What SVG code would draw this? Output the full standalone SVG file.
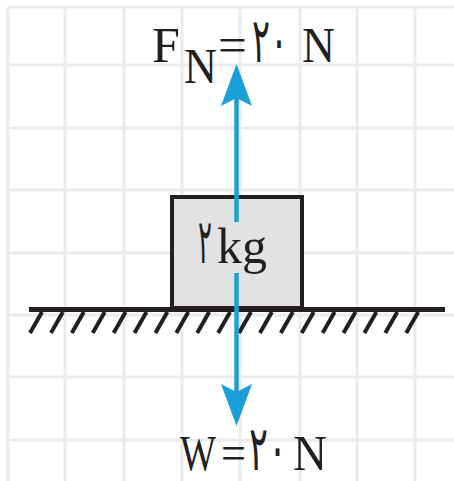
<svg xmlns="http://www.w3.org/2000/svg" width="454" height="481" viewBox="0 0 454 481">
<style>
.grid line{stroke:#ebebeb;stroke-width:3}
.edge{stroke:#f2f2f2;stroke-width:1.5}
.t{font-family:"Liberation Serif","DejaVu Sans",serif;font-size:50px;fill:#231f20}
.d{font-family:"DejaVu Sans",sans-serif;font-size:62px;fill:#231f20}
.blue{stroke:#1a9fd9;stroke-width:4.5;fill:none}
.hatch line{stroke:#231f20;stroke-width:4}
</style>
<defs>
<marker id="ah" markerUnits="userSpaceOnUse" viewBox="-1 -17 46 34" markerWidth="46" markerHeight="34" refX="8" refY="0" orient="auto" overflow="visible">
<path d="M0,-15.5 L42,0 L0,15.5 L8,0 Z" fill="#1a9fd9"/>
</marker>
</defs>
<rect width="454" height="481" fill="#fff"/>
<g class="grid" id="grid">
<line class="edge" x1="8" y1="7" x2="8" y2="481"/>
<line class="edge" x1="8" y1="7" x2="454" y2="7"/>
<line x1="65" y1="7" x2="65" y2="481"/>
<line x1="124" y1="7" x2="124" y2="481"/>
<line x1="182" y1="7" x2="182" y2="481"/>
<line x1="240" y1="7" x2="240" y2="481"/>
<line x1="300" y1="7" x2="300" y2="481"/>
<line x1="357" y1="7" x2="357" y2="481"/>
<line x1="415" y1="7" x2="415" y2="481"/>
<line x1="8" y1="65" x2="454" y2="65"/>
<line x1="8" y1="128" x2="454" y2="128"/>
<line x1="8" y1="190" x2="454" y2="190"/>
<line x1="8" y1="253" x2="454" y2="253"/>
<line x1="8" y1="315" x2="454" y2="315"/>
<line x1="8" y1="377" x2="454" y2="377"/>
<line x1="8" y1="440" x2="454" y2="440"/>
</g>
<g id="ground">
<line x1="29" y1="309.5" x2="445" y2="309.5" stroke="#231f20" stroke-width="5"/>
<g class="hatch">
<line x1="42" y1="312" x2="30" y2="333"/>
<line x1="62.9" y1="312" x2="50.9" y2="333"/>
<line x1="83.8" y1="312" x2="71.8" y2="333"/>
<line x1="104.7" y1="312" x2="92.7" y2="333"/>
<line x1="125.6" y1="312" x2="113.6" y2="333"/>
<line x1="146.5" y1="312" x2="134.5" y2="333"/>
<line x1="167.4" y1="312" x2="155.4" y2="333"/>
<line x1="188.3" y1="312" x2="176.3" y2="333"/>
<line x1="209.2" y1="312" x2="197.2" y2="333"/>
<line x1="230.1" y1="312" x2="218.1" y2="333"/>
<line x1="251" y1="312" x2="239" y2="333"/>
<line x1="271.9" y1="312" x2="259.9" y2="333"/>
<line x1="292.8" y1="312" x2="280.8" y2="333"/>
<line x1="313.7" y1="312" x2="301.7" y2="333"/>
<line x1="334.6" y1="312" x2="322.6" y2="333"/>
<line x1="355.5" y1="312" x2="343.5" y2="333"/>
<line x1="376.4" y1="312" x2="364.4" y2="333"/>
<line x1="397.3" y1="312" x2="385.3" y2="333"/>
<line x1="418.2" y1="312" x2="406.2" y2="333"/>
</g>
</g>
<g id="block">
<rect x="172" y="197" width="130" height="111" fill="#e2e2e2" stroke="#231f20" stroke-width="4"/>
<text class="d" x="198" y="263" textLength="14" lengthAdjust="spacingAndGlyphs">۲</text>
<text class="t" x="217" y="263">kg</text>
</g>
<g id="connectors">
<line class="blue" x1="236.5" y1="222" x2="236.5" y2="98" marker-end="url(#ah)"/>
<line class="blue" x1="236.5" y1="273" x2="236.5" y2="392" marker-end="url(#ah)"/>
</g>
<g id="label-fn">
<text class="t" x="152" y="62">F</text>
<text class="t" x="184" y="83" textLength="33" lengthAdjust="spacingAndGlyphs">N</text>
<text class="t" x="218" y="62" textLength="29" lengthAdjust="spacingAndGlyphs">=</text>
<text class="d" x="252" y="62" direction="ltr" textLength="36" lengthAdjust="spacingAndGlyphs">۲۰</text>
<text class="t" x="302" y="62" textLength="33" lengthAdjust="spacingAndGlyphs">N</text>
</g>
<g id="label-w">
<text class="t" x="180" y="470" textLength="36" lengthAdjust="spacingAndGlyphs">W</text>
<text class="t" x="221" y="470" textLength="25" lengthAdjust="spacingAndGlyphs">=</text>
<text class="d" x="249" y="470" direction="ltr" textLength="38" lengthAdjust="spacingAndGlyphs">۲۰</text>
<text class="t" x="293" y="470" textLength="34" lengthAdjust="spacingAndGlyphs">N</text>
</g>
</svg>
